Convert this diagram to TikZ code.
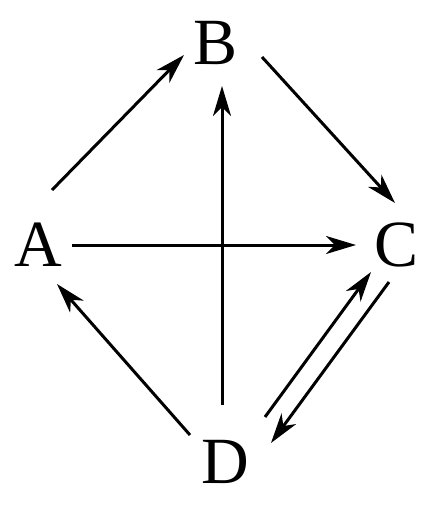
\documentclass[tikz,border=0pt]{standalone}
\usepackage{fontspec}
\setmainfont{Liberation Serif}
\usetikzlibrary{arrows.meta,calc}
\begin{document}
\begin{tikzpicture}[x=1pt,y=-1pt,
  lbl/.style={inner sep=0pt,font=\fontsize{66}{66}\selectfont},
  arr/.style={line width=3pt,-{Stealth[length=30pt,width=18pt,inset=9pt]}}]
\useasboundingbox (0,0) rectangle (444,512);
\node[lbl] (A) at (38,245) {A};
\node[lbl] (B) at (216,43) {B};
\node[lbl] (C) at (397,245) {C};
\node[lbl] (D) at (225,462) {D};
\draw[arr] ($(A)+(14,-55)$) -- ($(B)+(-32,12)$);
\draw[arr] ($(D)+(-3,-57)$) -- ($(B)+(6,43)$);
\draw[arr] ($(B)+(46,14)$) -- ($(C)+(-2,-42)$);
\draw[arr] ($(A)+(34,0)$) -- ($(C)+(-41,0)$);
\draw[arr] ($(D)+(40,-45)$) -- ($(C)+(-26,27)$);
\draw[arr] ($(C)+(-8,37)$) -- ($(D)+(46,-19)$);
\draw[arr] ($(D)+(-35,-27)$) -- ($(A)+(19,39)$);
\end{tikzpicture}
\end{document}
